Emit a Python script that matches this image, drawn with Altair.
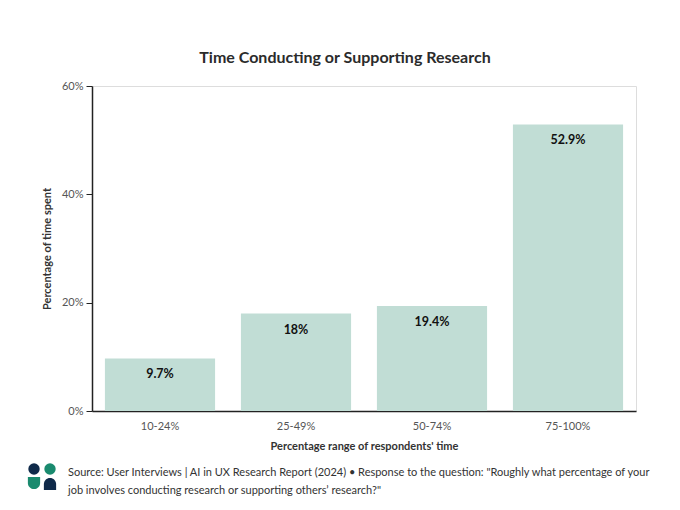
import altair as alt
import pandas as pd

categories = ["10-24%", "25-49%", "50-74%", "75-100%"]
values = [9.7, 18.0, 19.4, 52.9]
labels = ["9.7%", "18%", "19.4%", "52.9%"]
y_ticks = [0, 20, 40, 60]

df = pd.DataFrame({"cat": categories, "val": values, "lab": labels})

FONT = "Lato"
BAR = "#c1ddd5"
NAVY = "#0f2a4a"
TEAL = "#1a8a6e"

x = alt.X("cat:N", sort=categories, title="Percentage range of respondents' time",
          scale=alt.Scale(paddingInner=0.19, paddingOuter=0.095),
          axis=alt.Axis(labelAngle=0, ticks=False, labelPadding=9, titlePadding=9,
                        labelColor="#555555", labelFontSize=11, labelFont=FONT,
                        titleFont=FONT, titleFontSize=11, titleFontWeight="bold",
                        titleColor="#333333", domainColor="#222222", domainWidth=1.5))
y = alt.Y("val:Q", title="Percentage of time spent",
          scale=alt.Scale(domain=[0, 60]),
          axis=alt.Axis(values=y_ticks, labelExpr="datum.value + '%'", grid=False,
                        tickSize=6, tickColor="#222222", labelColor="#555555",
                        labelFontSize=11, labelFont=FONT, labelPadding=3,
                        titleFont=FONT, titleFontSize=11, titleFontWeight="bold",
                        titleColor="#333333", titlePadding=9,
                        domainColor="#222222", domainWidth=1.5))

bars = alt.Chart(df).mark_bar(color=BAR).encode(x=x, y=y)
text = alt.Chart(df).mark_text(font=FONT, fontSize=12.5, fontWeight="bold", color="#111111",
                               baseline="top", dy=10).encode(
    x=alt.X("cat:N", sort=categories), y="val:Q", text="lab:N")

one = alt.Data(values=[{}])
footer = alt.Chart(one).mark_text(
    font=FONT, fontSize=11, color="#333333", align="left", baseline="top",
    lineHeight=18,
    text=["Source: User Interviews | AI in UX Research Report (2024) \u2022 Response to the question: \"Roughly what percentage of your",
          "job involves conducting research or supporting others\u2019 research?\""]
).encode(x=alt.value(-24), y=alt.value(381))

logo_tl = alt.Chart(one).mark_point(shape="circle", filled=True, size=130, color=NAVY, opacity=1).encode(
    x=alt.value(-58), y=alt.value(383))
logo_tr = alt.Chart(one).mark_point(shape="circle", filled=True, size=130, color=TEAL, opacity=1).encode(
    x=alt.value(-42), y=alt.value(383))
logo_bl = alt.Chart(one).mark_point(shape="M-1,-1L1,-1L1,0A1,1 0 0 1 -1,0Z", filled=True, size=150,
                                    color=TEAL, opacity=1).encode(x=alt.value(-58), y=alt.value(397))
logo_br = alt.Chart(one).mark_point(shape="M-1,1L-1,0A1,1 0 0 1 1,0L1,1Z", filled=True, size=150,
                                    color=NAVY, opacity=1).encode(x=alt.value(-42), y=alt.value(398))

chart = alt.layer(bars, text, footer, logo_tl, logo_tr, logo_bl, logo_br).properties(
    width=544, height=325,
    title=alt.TitleParams("Time Conducting or Supporting Research", font=FONT, fontSize=16,
                          fontWeight="bold", color="#2b2b2b", offset=14, anchor="middle", dx=-19),
    autosize=alt.AutoSizeParams(type="none"),
    padding={"left": 84, "top": 78, "right": 36, "bottom": 94},
).configure_view(stroke=None).configure(background="white")

chart.save("out.html", embed_options={"renderer": "svg", "actions": False})
